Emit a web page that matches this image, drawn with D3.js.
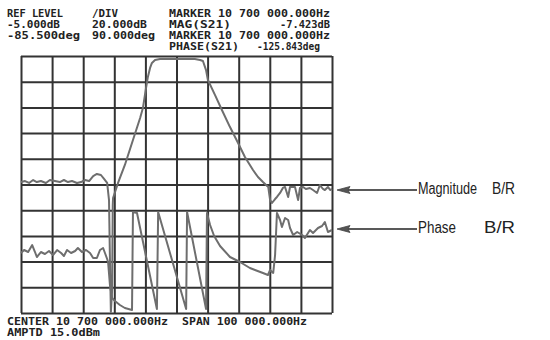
<!DOCTYPE html>
<html>
<head>
<meta charset="utf-8">
<script src="https://cdn.jsdelivr.net/npm/d3@7"></script>
<style>
  body { margin: 0; background: #fff; }
  svg { display: block; }
  .hdr { font-family: "DejaVu Sans Mono", monospace; font-weight: bold; font-size: 10px; fill: #222; }
  .lbl { font-family: "Liberation Sans", Arial, sans-serif; font-size: 16px; fill: #222; }
  .grid line { stroke: #333; stroke-width: 2; }
  .grid path { display: none; }
  .trace { fill: none; stroke: #6e6e6e; stroke-width: 2; stroke-linejoin: round; }
</style>
</head>
<body>
<div id="chart"></div>
<script>
// offset from 10.700 MHz in kHz, span 100 kHz
const magFreq = [-50, -48.7, -47.4, -46.1, -44.9, -43.6, -42, -40.7, -39.1, -37.5, -36.2, -34.9, -33.6, -32, -30.7,
  -29.4, -28.1, -26.8, -25.6, -24.3, -23.3, -22.3, -21.7, -21.4, -21.1, -20.7, -20.5, -20.4, -18.8, -16.6,
  -14, -11.7, -10.8, -9.8, -9.2, -8.5, -7.9, -6.9, -5.3, -2.1, 0, 2.7, 5.9, 7.6, 8.5, 9.5, 10.1, 12.4, 14.6,
  17.2, 19.8, 22, 24.6, 26.2, 27.8, 28.8, 29.5, 30.1, 30.7, 31.7, 32.3, 33.3, 34.2, 34.9, 35.9, 36.5, 38.1,
  39.1, 39.7, 40.7, 41.6, 42.9, 43.9, 45.2, 46.1, 47.1, 47.7, 48.7, 49.4, 50];
const magDb = [-103.1, -102.3, -103.8, -101.5, -103.1, -102.3, -103.8, -101.5, -102.3, -103.1, -101.5, -103.1,
  -102.3, -103.8, -103.1, -101.5, -102.3, -98.4, -96.8, -97.6, -100.7, -103.8, -117.1, -163.8, -204.2, -187.1,
  -121, -115.5, -103.8, -89.8, -70.4, -53.2, -45.5, -29.9, -21.3, -14.3, -10.4, -8.1, -7.3, -7.3, -7.4, -7.3,
  -7.3, -8.1, -8.9, -16, -23.7, -35.4, -47, -60.3, -72.7, -83.6, -93.7, -99.2, -103.1, -105.4, -106.9, -117.1,
  -119.4, -116.3, -114.7, -111.6, -107.7, -106.9, -114.7, -106.9, -106.9, -117.1, -107.7, -106.9, -108.5,
  -107.7, -109.3, -111.6, -105.4, -108.5, -109.3, -106.9, -109.3, -108.5];

const phaseFreq = [-50, -49, -47.7, -46.4, -45.5, -44.9, -43.6, -42.3, -41, -39.7, -38.4, -37.1, -36.2, -35.2,
  -33.9, -32.6, -31.7, -30.4, -29.1, -27.8, -26.8, -25.6, -24.6, -23.6, -23, -22.3, -22, -21.4, -20.7, -19.8,
  -18.2, -16.6, -14.3, -14, -12.7, -6.3, -5.9, 3.1, 3.4, 9.5, 9.8, 10.8, 12.1, 14, 17.2, 20.4, 23.6, 27.8,
  29.4, 30.1, 30.7, 31.1, 31.7, 32.3, 33.3, 33.9, 34.9, 35.9, 36.5, 37.5, 38.8, 40.4, 41.3, 42.9, 43.9, 45.5,
  46.8, 47.7, 48.7, 50];
const phaseDeg = [34.6, 45.1, 38.1, 62.6, 38.1, 20.6, 38.1, 31.1, 41.6, 27.6, 45.1, 34.6, 24.1, 45.1, 34.6, 41.6,
  52.1, 38.1, 45.1, 34.6, 17.1, 17.1, 45.1, 52.1, 34.6, 13.6, 3.1, -77.4, -123, -133.5, -147.5, -158, -165,
  178.2, 174.7, -161.5, 178.2, -161.5, 178.2, -161.5, 174.7, 132.7, 94.2, 59.1, 20.6, 3.1, -17.9, -35.4, -42.4,
  -24.9, -31.9, -35.4, 27.6, 174.7, 150.2, 125.7, 157.2, 150.2, 122.2, 97.7, 108.2, 97.7, 87.2, 115.2, 104.7,
  122.2, 129.2, 143.2, 108.2, 115.2];

const headerRows = [
  ['REF LEVEL', '/DIV', 'MARKER 10 700 000.000Hz'],
  ['-5.000dB', '20.000dB', 'MAG(S21)'],
  ['-85.500deg', '90.000deg', 'MARKER 10 700 000.000Hz'],
  ['', '', 'PHASE(S21)']
];
const markerReadouts = ['', '-7.423dB', '', '-125.843deg'];
const footerRows = ['CENTER 10 700 000.000Hz', 'AMPTD 15.0dBm'];
const spanLabel = 'SPAN 100 000.000Hz';
const traceLabels = ['Magnitude', 'Phase'];

const W = 550, H = 340;
const plot = { left: 21, right: 332, top: 56, bottom: 313 };

const svg = d3.select('#chart').append('svg').attr('width', W).attr('height', H);

const x = d3.scaleLinear().domain([-50, 50]).range([plot.left, plot.right]);
const yMag = d3.scaleLinear().domain([-205, -5]).range([plot.bottom, plot.top]);
const yPhase = d3.scaleLinear().domain([-175.5, 724.5]).range([plot.bottom, plot.top]);

// graticule
svg.append('g')
  .attr('class', 'grid')
  .attr('transform', `translate(0, ${plot.bottom})`)
  .call(d3.axisBottom(x).tickValues(d3.range(-50, 51, 10)).tickSize(-(plot.bottom - plot.top)).tickFormat(''));
svg.append('g')
  .attr('class', 'grid')
  .attr('transform', `translate(${plot.left}, 0)`)
  .call(d3.axisLeft(yMag).tickValues(d3.range(-205, -4, 20)).tickSize(-(plot.right - plot.left)).tickFormat(''));

// traces
const magLine = d3.line().x((d, i) => x(magFreq[i])).y(d => yMag(d));
const phaseLine = d3.line().x((d, i) => x(phaseFreq[i])).y(d => yPhase(d));
svg.append('path').attr('class', 'trace').attr('d', magLine(magDb));
svg.append('path').attr('class', 'trace').attr('d', phaseLine(phaseDeg));

// header text
const colX = [7, 92, 169];
const colW = [[56, 26, 161], [53, 55, 62], [73, 63, 161], [0, 0, 70]];
headerRows.forEach((row, r) => {
  row.forEach((t, c) => {
    if (!t) return;
    svg.append('text').attr('class', 'hdr')
      .attr('x', colX[c]).attr('y', 17 + r * 11)
      .attr('textLength', colW[r][c]).attr('lengthAdjust', 'spacingAndGlyphs')
      .text(t);
  });
});
svg.append('text').attr('class', 'hdr').attr('x', 280).attr('y', 28)
  .attr('textLength', 50).attr('lengthAdjust', 'spacingAndGlyphs').text(markerReadouts[1]);
svg.append('text').attr('class', 'hdr').attr('x', 257).attr('y', 50)
  .attr('textLength', 63).attr('lengthAdjust', 'spacingAndGlyphs').text(markerReadouts[3]);

// footer
svg.append('text').attr('class', 'hdr').attr('x', 7).attr('y', 325)
  .attr('textLength', 161).attr('lengthAdjust', 'spacingAndGlyphs').text(footerRows[0]);
svg.append('text').attr('class', 'hdr').attr('x', 182).attr('y', 325)
  .attr('textLength', 125).attr('lengthAdjust', 'spacingAndGlyphs').text(spanLabel);
svg.append('text').attr('class', 'hdr').attr('x', 7).attr('y', 336)
  .attr('textLength', 93).attr('lengthAdjust', 'spacingAndGlyphs').text(footerRows[1]);

// trace annotations with arrows
const labelY = [190, 229];
labelY.forEach((ly, i) => {
  const g = svg.append('g');
  g.append('line').attr('x1', 346).attr('x2', 417).attr('y1', ly).attr('y2', ly)
    .attr('stroke', '#222').attr('stroke-width', 1.3);
  g.append('path').attr('d', `M337,${ly} L350,${ly - 3.5} L348,${ly} L350,${ly + 3.5} Z`)
    .attr('fill', '#555').attr('stroke', '#444').attr('stroke-width', 0.8);
  g.append('text').attr('class', 'lbl').attr('x', 418).attr('y', ly + 4)
    .attr('textLength', i === 0 ? 59 : 38).attr('lengthAdjust', 'spacingAndGlyphs')
    .text(traceLabels[i]);
  g.append('text').attr('class', 'lbl').attr('x', i === 0 ? 492 : 484).attr('y', ly + 4)
    .attr('textLength', i === 0 ? 23 : 31).attr('lengthAdjust', 'spacingAndGlyphs')
    .text('B/R');
});
</script>
</body>
</html>
